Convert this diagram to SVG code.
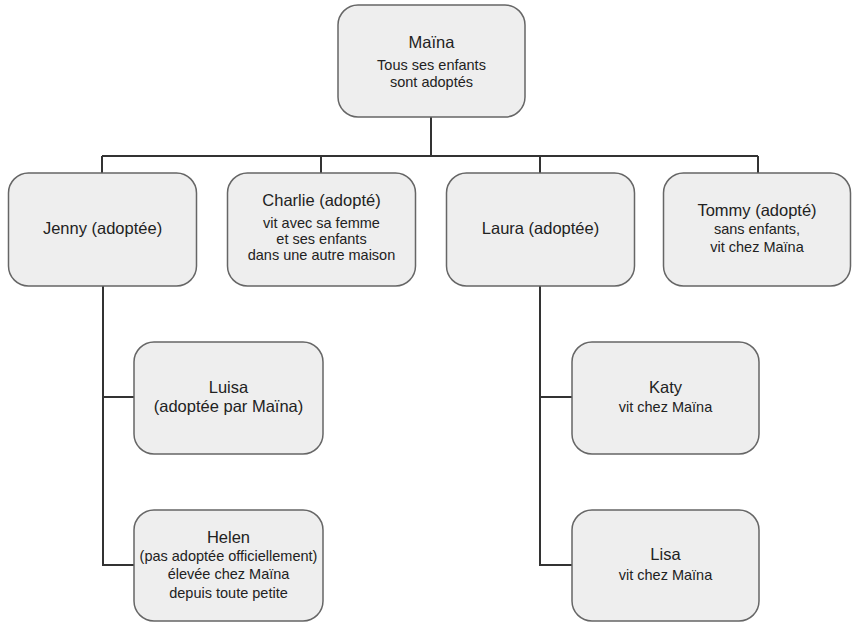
<svg xmlns="http://www.w3.org/2000/svg" width="853" height="622" viewBox="0 0 853 622">
<style>
.box{fill:#eeeeee;stroke:#666666;stroke-width:1.5}
.t{font-family:"Liberation Sans",Arial,sans-serif;fill:#222222;text-anchor:middle}
.h{font-size:16.5px}
.s{font-size:14.5px}
.c{fill:none;stroke:#333333;stroke-width:2}
</style>
<rect width="853" height="622" fill="#ffffff"/>
<g id="connectors">
<path class="c" d="M431 117V156M102 156H758M102 156V173M321 156V173M540 156V173M758 156V173"/>
<path class="c" d="M103 286V565H134M103 397H134"/>
<path class="c" d="M540 286V565H572M540 397H572"/>
</g>
<g id="maina">
<rect class="box" x="338" y="5" width="187" height="112" rx="20"/>
<text class="t h" x="431.5" y="48">Maïna</text>
<text class="t s" x="431.5" y="70">Tous ses enfants</text>
<text class="t s" x="431.5" y="87">sont adoptés</text>
</g>
<g id="jenny">
<rect class="box" x="8.5" y="173" width="188" height="113" rx="20"/>
<text class="t h" x="102.5" y="234">Jenny (adoptée)</text>
</g>
<g id="charlie">
<rect class="box" x="227.5" y="173" width="188" height="113" rx="20"/>
<text class="t h" x="321.5" y="206">Charlie (adopté)</text>
<text class="t s" x="321.5" y="228">vit avec sa femme</text>
<text class="t s" x="321.5" y="244">et ses enfants</text>
<text class="t s" x="321.5" y="260">dans une autre maison</text>
</g>
<g id="laura">
<rect class="box" x="446.5" y="173" width="188" height="113" rx="20"/>
<text class="t h" x="540.5" y="234">Laura (adoptée)</text>
</g>
<g id="tommy">
<rect class="box" x="663.5" y="173" width="187" height="113" rx="20"/>
<text class="t h" x="757" y="216">Tommy (adopté)</text>
<text class="t s" x="757" y="234">sans enfants,</text>
<text class="t s" x="757" y="252">vit chez Maïna</text>
</g>
<g id="luisa">
<rect class="box" x="134" y="342" width="189" height="112" rx="20"/>
<text class="t h" x="228.5" y="393">Luisa</text>
<text class="t h" x="228.5" y="412">(adoptée par Maïna)</text>
</g>
<g id="helen">
<rect class="box" x="134" y="510" width="189" height="111" rx="20"/>
<text class="t h" x="228.5" y="543">Helen</text>
<text class="t s" x="228.5" y="561">(pas adoptée officiellement)</text>
<text class="t s" x="228.5" y="579">élevée chez Maïna</text>
<text class="t s" x="228.5" y="598">depuis toute petite</text>
</g>
<g id="katy">
<rect class="box" x="572" y="342" width="187" height="112" rx="20"/>
<text class="t h" x="665.5" y="393">Katy</text>
<text class="t s" x="665.5" y="412">vit chez Maïna</text>
</g>
<g id="lisa">
<rect class="box" x="572" y="510" width="187" height="111" rx="20"/>
<text class="t h" x="665.5" y="560">Lisa</text>
<text class="t s" x="665.5" y="580">vit chez Maïna</text>
</g>
</svg>
